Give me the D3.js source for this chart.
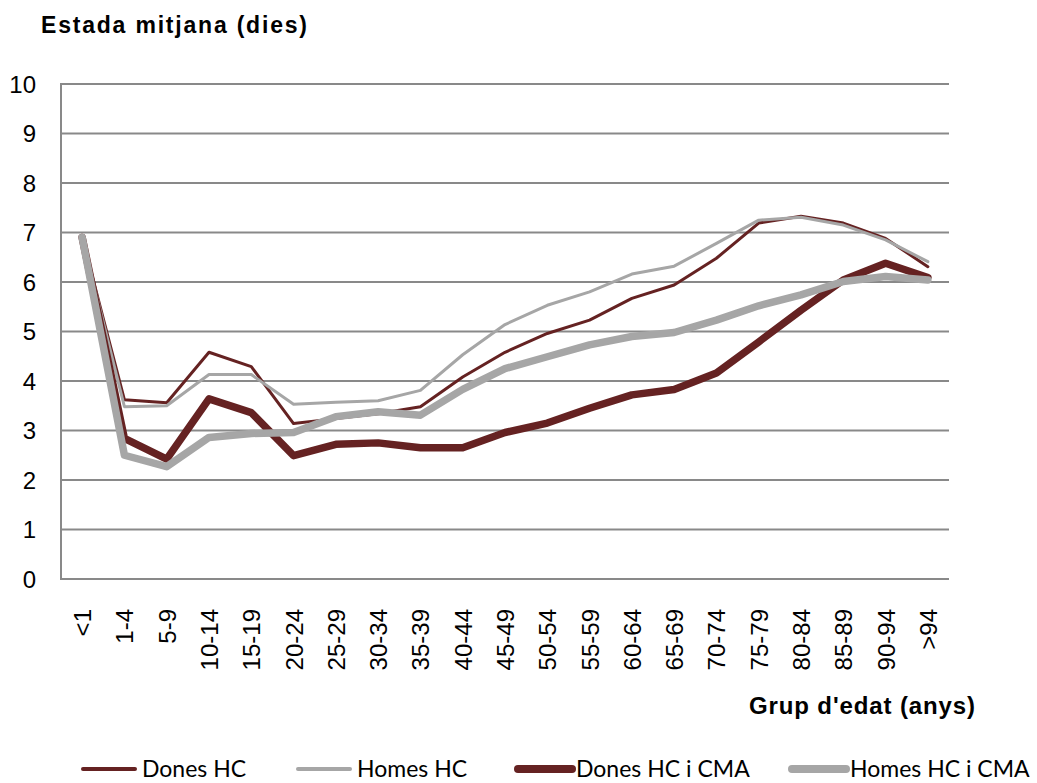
<!DOCTYPE html>
<html>
<head>
<meta charset="utf-8">
<script src="https://cdn.jsdelivr.net/npm/d3@7"></script>
<style>
  body { margin: 0; background: #fff; }
  text { font-family: "Liberation Sans", Arial, sans-serif; fill: #000; }
</style>
</head>
<body>
<div id="chart"></div>
<script>
// age groups
var groups = ["<1","1-4","5-9","10-14","15-19","20-24","25-29","30-34","35-39","40-44","45-49",
  "50-54","55-59","60-64","65-69","70-74","75-79","80-84","85-89","90-94",">94"];

// mean stay in days
var donesHC    = [6.9,3.62,3.56,4.58,4.29,3.14,3.24,3.34,3.48,4.08,4.58,4.96,5.23,5.67,5.94,6.48,7.19,7.33,7.19,6.88,6.31];
var homesHC    = [6.9,3.48,3.5,4.13,4.13,3.53,3.57,3.6,3.81,4.53,5.14,5.53,5.8,6.16,6.32,6.78,7.25,7.31,7.15,6.85,6.41];
var donesHCCMA = [6.9,2.84,2.42,3.64,3.36,2.49,2.72,2.75,2.65,2.65,2.96,3.15,3.45,3.72,3.83,4.16,4.79,5.43,6.04,6.38,6.09];
var homesHCCMA = [6.9,2.5,2.27,2.86,2.94,2.96,3.28,3.38,3.31,3.83,4.25,4.49,4.73,4.9,4.98,5.23,5.52,5.74,6.01,6.11,6.04];

var yTicks = [0,1,2,3,4,5,6,7,8,9,10];

var red = "#652222", grey = "#a6a6a6";
var series = [
  {name: "Dones HC", values: donesHC, color: red, width: 3},
  {name: "Homes HC", values: homesHC, color: grey, width: 3},
  {name: "Dones HC i CMA", values: donesHCCMA, color: red, width: 7.5},
  {name: "Homes HC i CMA", values: homesHCCMA, color: grey, width: 7.5}
];

var W = 1037, H = 783;
var plotLeft = 61, plotRight = 949, plotTop = 84, plotBottom = 579;

var svg = d3.select("#chart").append("svg").attr("width", W).attr("height", H);

var x = d3.scaleBand().domain(groups).range([plotLeft, plotRight]);
var y = d3.scaleLinear().domain([0, 10]).range([plotBottom, plotTop]);

// gridlines
svg.append("g").selectAll("line").data(yTicks).enter().append("line")
  .attr("x1", plotLeft).attr("x2", plotRight)
  .attr("y1", d => y(d)).attr("y2", d => y(d))
  .attr("stroke", "#898989").attr("stroke-width", 2);

svg.append("line").attr("x1", plotLeft).attr("x2", plotLeft)
  .attr("y1", plotTop - 1).attr("y2", plotBottom + 1)
  .attr("stroke", "#898989").attr("stroke-width", 2);

// y tick labels
svg.append("g").selectAll("text").data(yTicks).enter().append("text")
  .attr("x", 36).attr("y", d => y(d)).attr("dy", "0.36em")
  .attr("text-anchor", "end").style("font-size", "24px")
  .text(d => d);

// x tick labels
svg.append("g").selectAll("text").data(groups).enter().append("text")
  .attr("transform", d => "translate(" + (x(d) + x.bandwidth() / 2 + 9) + ",609) rotate(-90)")
  .attr("text-anchor", "end").style("font-size", "24px")
  .text(d => d);

// lines
var line = d3.line()
  .x((d, i) => x(groups[i]) + x.bandwidth() / 2)
  .y(d => y(d));

svg.append("g").selectAll("path").data(series).enter().append("path")
  .attr("d", d => line(d.values))
  .attr("fill", "none")
  .attr("stroke", d => d.color)
  .attr("stroke-width", d => d.width)
  .attr("stroke-linejoin", "round")
  .attr("stroke-linecap", "round");

// titles
svg.append("text").attr("x", 41).attr("y", 33)
  .style("font-size", "23px").style("font-weight", "bold")
  .attr("textLength", 266)
  .text("Estada mitjana (dies)");

svg.append("text").attr("x", 975).attr("y", 714)
  .attr("text-anchor", "end")
  .style("font-size", "24px").style("font-weight", "bold")
  .attr("textLength", 226)
  .text("Grup d'edat (anys)");

// legend
var legendX = [83, 298, 518, 792];
var leg = svg.append("g").selectAll("g").data(series).enter().append("g")
  .attr("transform", (d, i) => "translate(" + legendX[i] + ",769)");
leg.append("line").attr("x1", 0).attr("x2", (d, i) => i < 2 ? 52 : 54)
  .attr("stroke", d => d.color)
  .attr("stroke-width", d => d.width < 5 ? 4 : 8)
  .attr("stroke-linecap", "round");
leg.append("text").attr("x", (d, i) => i < 2 ? 59 : 58).attr("y", 8)
  .style("font-family", "Lato, sans-serif").style("font-size", "23px")
  .text(d => d.name);
</script>
</body>
</html>
